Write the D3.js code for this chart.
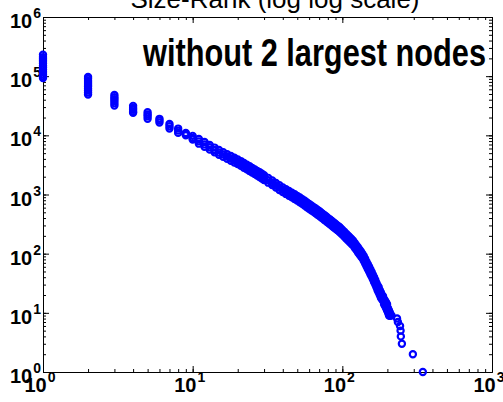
<!DOCTYPE html>
<html>
<head>
    <meta charset="utf-8">
    <title>Size-Rank (log log scale)</title>
    <script src="https://cdnjs.cloudflare.com/ajax/libs/d3/7.8.5/d3.min.js"></script>
    <style>
        body { margin: 0; background: #fff; }
        svg { display: block; }
        .axis path, .axis line { stroke: #000; stroke-width: 1; }
        .tick-label { font-family: "Liberation Sans", Arial, sans-serif; font-weight: bold; fill: #000; }
    </style>
</head>
<body>

<script type="text/javascript">
    // ranks 1..10: several observed sizes per rank
    var headRanks = [1, 2, 3, 4, 5, 6, 7, 8, 9, 10];
    var headSizes = [
        [230000, 210000, 195000, 180000, 165000, 150000, 140000, 128000, 118000, 108000, 100000, 93000],
        [97000, 90000, 83000, 77000, 71000, 66000, 61000, 57000, 53000, 49000],
        [48000, 44000, 41000, 38000, 35000, 32000],
        [31500, 29000, 27000, 25000, 24000],
        [24500, 22500, 21000, 19000],
        [19000, 17800, 16500],
        [15500, 14200, 13000],
        [13000, 12000, 11000],
        [11000, 10500, 10000],
        [9800, 9000, 8500]
    ];

    // ranks 11..208: upper, middle and lower sizes of the dense band
    var bandRanks = [11, 12, 13, 14, 15, 16, 17, 18, 19, 20, 21, 22, 23, 24, 25, 26, 27, 28, 29, 30,
        32, 34, 36, 38, 40, 42, 44, 46, 48, 50, 52, 54, 56, 58, 60, 62, 64, 66, 68, 70,
        72, 74, 76, 78, 80, 82, 84, 86, 88, 90, 92, 94, 96, 98, 100,
        103, 106, 109, 112, 115, 118, 121, 124, 127, 130, 133, 136, 139, 142, 145, 148,
        151, 154, 157, 160, 163, 166, 169, 172, 175, 178, 181, 184, 187, 190, 193, 196,
        199, 202, 205, 208];
    var bandHigh = [8690, 7710, 6880, 6210, 5640, 5190, 4810, 4480, 4180, 3920, 3670, 3420, 3200, 3000, 2820, 2660, 2510, 2380, 2240, 2120,
        1910, 1730, 1570, 1440, 1320, 1230, 1150, 1074, 1007, 946, 891, 836, 783, 734, 692, 653, 617, 585, 553, 526,
        498, 471, 447, 424, 403, 384, 366, 348, 333, 318, 304, 292, 279, 265, 252,
        234, 218, 203, 189, 177, 166, 152, 139, 128, 118, 109, 100, 91, 82, 73, 66,
        60, 54, 49, 44, 40, 36, 32, 29, 27, 24, 22, 20, 19, 17, 16, 15,
        14, 12, 11, 10];
    var bandMid = [7920, 7030, 6280, 5660, 5140, 4730, 4390, 4080, 3810, 3570, 3350, 3120, 2920, 2740, 2570, 2430, 2290, 2170, 2050, 1930,
        1740, 1570, 1430, 1310, 1210, 1120, 1050, 980, 918, 863, 813, 762, 714, 670, 631, 596, 562, 533, 505, 480,
        454, 430, 407, 386, 367, 350, 333, 318, 303, 290, 277, 266, 255, 242, 230,
        213, 199, 185, 173, 161, 151, 138, 127, 117, 107, 99, 92, 83, 75, 67, 60,
        54, 49, 45, 41, 36, 33, 30, 27, 24, 22, 20, 19, 17, 16, 15, 13,
        12, 11, 10, 9];
    var bandLow = [7230, 6410, 5730, 5160, 4690, 4320, 4000, 3720, 3480, 3260, 3050, 2840, 2660, 2500, 2340, 2210, 2090, 1980, 1870, 1760,
        1585, 1440, 1310, 1190, 1100, 1023, 955, 894, 837, 787, 741, 695, 652, 611, 575, 543, 513, 486, 460, 438,
        414, 392, 372, 352, 335, 319, 304, 290, 277, 265, 253, 243, 232, 221, 210,
        195, 181, 169, 157, 147, 138, 126, 116, 106, 98, 90, 84, 76, 68, 61, 55,
        50, 45, 41, 37, 33, 30, 27, 24, 22, 20, 18, 17, 16, 14, 13, 12,
        11, 10, 9, 9];

    // the last few single nodes
    var tailRanks = [213, 232, 235, 243, 245, 246, 250, 296, 345];
    var tailSizes = [9, 8, 7, 6, 5, 4, 3, 2, 1];

    var xExponents = [0, 1, 2, 3];
    var yExponents = [0, 1, 2, 3, 4, 5, 6];

    var titleText = "Size-Rank (log log scale)";
    var noteText = "without 2 largest nodes";

    var width = 503,
        height = 402,
        plotLeft = 43, plotRight = 492, plotTop = 17, plotBottom = 372;

    var x = d3.scaleLog().domain([1, 1000]).range([plotLeft, plotRight]),
        y = d3.scaleLog().domain([1, 1e6]).range([plotBottom, plotTop]);

    var points = [];
    headRanks.forEach(function(r, i){
        headSizes[i].forEach(function(s){ points.push({rank: r, size: s}); });
    });
    bandRanks.forEach(function(r, i){
        points.push({rank: r, size: bandHigh[i]});
        points.push({rank: r, size: bandMid[i]});
        points.push({rank: r, size: bandLow[i]});
    });
    tailRanks.forEach(function(r, i){
        points.push({rank: r, size: tailSizes[i]});
    });

    var svg = d3.select("body").append("svg")
        .attr("width", width)
        .attr("height", height);

    renderAxes(svg);
    renderDots(svg);
    renderText(svg);

    function renderAxes(svg){
        var majorX = xExponents.map(function(e){ return Math.pow(10, e); }),
            majorY = yExponents.map(function(e){ return Math.pow(10, e); });

        var sides = [
            {axis: d3.axisBottom, scale: x, major: majorX, t: "translate(0," + plotBottom + ")"},
            {axis: d3.axisTop, scale: x, major: majorX, t: "translate(0," + plotTop + ")"},
            {axis: d3.axisLeft, scale: y, major: majorY, t: "translate(" + plotLeft + ",0)"},
            {axis: d3.axisRight, scale: y, major: majorY, t: "translate(" + plotRight + ",0)"}
        ];

        sides.forEach(function(s){
            // minor ticks, pointing inward
            svg.append("g")
                .attr("class", "axis")
                .attr("transform", s.t)
                .call(s.axis(s.scale).tickValues(s.scale.ticks()).tickSizeInner(-3).tickSizeOuter(0).tickFormat(""));
            // major ticks
            svg.append("g")
                .attr("class", "axis")
                .attr("transform", s.t)
                .call(s.axis(s.scale).tickValues(s.major).tickSizeInner(-6).tickSizeOuter(0).tickFormat(""));
        });

        svg.selectAll("g.axis text").remove();

        // x tick labels: 10 with superscript exponent
        var xl = svg.append("g").selectAll("text")
            .data(xExponents)
          .enter().append("text")
            .attr("class", "tick-label")
            .attr("text-anchor", "middle")
            .attr("x", function(e){ return x(Math.pow(10, e)) - 3; })
            .attr("y", plotBottom + 20);
        xl.append("tspan").attr("font-size", 20).text("10");
        xl.append("tspan").attr("font-size", 14).attr("dx", 1).attr("dy", -10)
            .text(function(e){ return e; });

        // y tick labels
        var yl = svg.append("g").selectAll("text")
            .data(yExponents)
          .enter().append("text")
            .attr("class", "tick-label")
            .attr("text-anchor", "end")
            .attr("x", 41)
            .attr("y", function(e){ return y(Math.pow(10, e)) + 11; });
        yl.append("tspan").attr("font-size", 20).text("10");
        yl.append("tspan").attr("font-size", 14).attr("dx", 1).attr("dy", -10)
            .text(function(e){ return e; });
    }

    function renderDots(svg){
        svg.append("g").selectAll("circle")
            .data(points)
          .enter().append("circle")
            .attr("cx", function(d){ return x(d.rank); })
            .attr("cy", function(d){ return y(d.size); })
            .attr("r", 3.1)
            .attr("fill", "none")
            .attr("stroke", "#0000ff")
            .attr("stroke-width", 2.2);
    }

    function renderText(svg){
        svg.append("text")
            .attr("x", 275)
            .attr("y", 8)
            .attr("text-anchor", "middle")
            .style("font-family", "'Liberation Sans', Arial, sans-serif")
            .style("font-size", "26px")
            .text(titleText);

        svg.append("text")
            .attr("x", 143)
            .attr("y", 66)
            .attr("textLength", 343)
            .attr("lengthAdjust", "spacingAndGlyphs")
            .style("font-family", "'Liberation Sans', Arial, sans-serif")
            .style("font-weight", "bold")
            .style("font-size", "38px")
            .text(noteText);
    }
</script>

</body>
</html>
